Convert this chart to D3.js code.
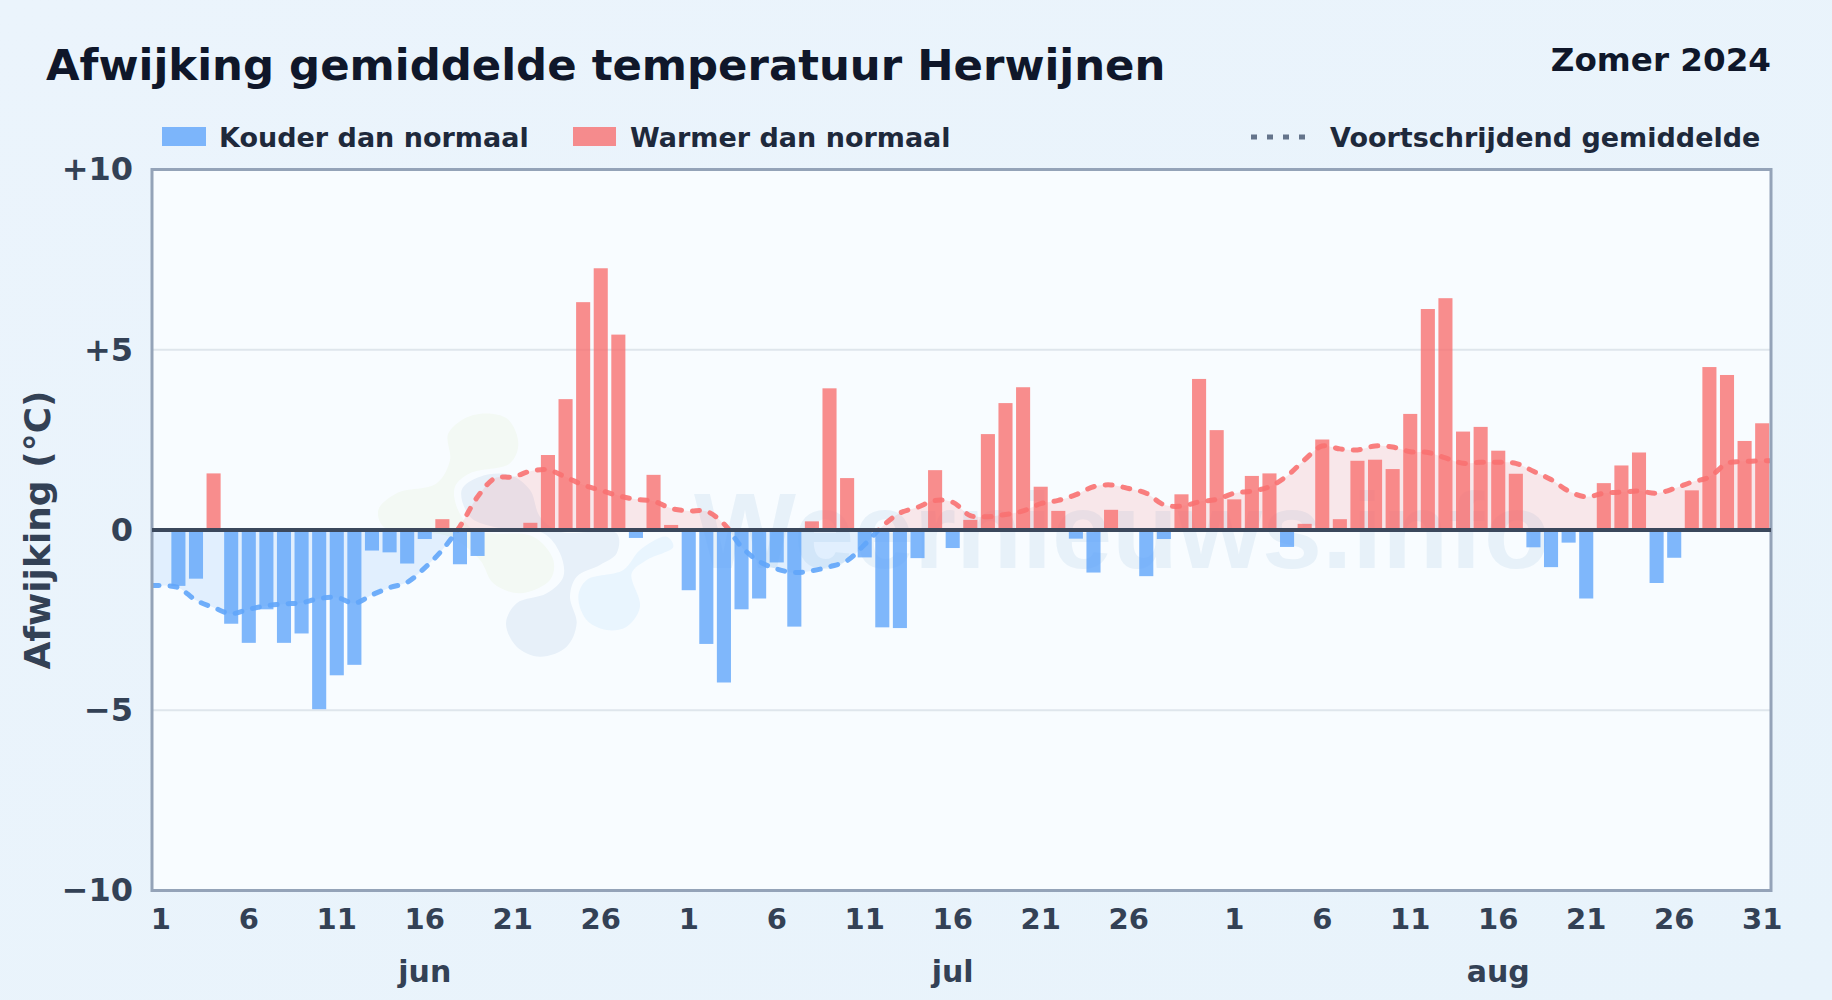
<!DOCTYPE html>
<html lang="nl"><head><meta charset="utf-8">
<script src="https://cdnjs.cloudflare.com/ajax/libs/d3/7.8.5/d3.min.js"></script>
<style>html,body{margin:0;padding:0;background:#e9f3fc}svg{display:block}text{font-family:"DejaVu Sans",sans-serif;font-weight:700}</style>
</head><body><svg id="c" width="1832" height="1000"></svg>
<script>
const titleText="Afwijking gemiddelde temperatuur Herwijnen";
const seasonText="Zomer 2024";
const yAxisTitle="Afwijking (°C)";
const legendLabels=["Kouder dan normaal","Warmer dan normaal","Voortschrijdend gemiddelde"];
const watermarkText="Weernieuws.info";
const months=["jun","jul","aug"];
const monthDays=[30,31,31];
const yTicks=[-10,-5,0,5,10];
const junDeviation=[0,-1.55,-1.35,1.57,-2.6,-3.13,-2.2,-3.13,-2.87,-4.97,-4.03,-3.74,-0.57,-0.62,-0.93,-0.25,0.3,-0.95,-0.72,0.05,0,0.2,2.08,3.63,6.32,7.26,5.42,-0.22,1.53,0.14];
const julDeviation=[-1.67,-3.16,-4.23,-2.2,-1.9,-0.9,-2.68,0.24,3.93,1.44,-0.76,-2.7,-2.72,-0.78,1.66,-0.5,0.28,2.66,3.52,3.96,1.2,0.53,-0.24,-1.18,0.56,-0.05,-1.28,-0.25,0.99,4.19,2.77];
const augDeviation=[0.85,1.5,1.57,-0.47,0.17,2.51,0.3,1.92,1.95,1.69,3.22,6.13,6.43,2.73,2.86,2.2,1.56,-0.48,-1.03,-0.35,-1.9,1.3,1.79,2.15,-1.47,-0.77,1.1,4.52,4.3,2.47,2.96];
const junAverage=[-1.54,-1.6,-1.95,-2.15,-2.32,-2.2,-2.1,-2.05,-2.02,-1.9,-1.87,-2.03,-1.8,-1.6,-1.45,-1.05,-0.55,0.1,0.92,1.44,1.47,1.63,1.67,1.47,1.25,1.1,0.95,0.85,0.8,0.6];
const julAverage=[0.53,0.52,0.17,-0.47,-0.87,-1.08,-1.18,-1.13,-1.02,-0.85,-0.4,0.1,0.47,0.63,0.82,0.77,0.4,0.37,0.43,0.53,0.73,0.82,0.98,1.2,1.25,1.15,1.02,0.7,0.66,0.78,0.85];
const augAverage=[1.02,1.08,1.2,1.5,1.95,2.33,2.25,2.22,2.33,2.3,2.17,2.15,2.0,1.85,1.88,1.88,1.85,1.63,1.4,1.08,0.92,1.02,1.05,1.08,1.02,1.15,1.33,1.47,1.85,1.9,1.92];
const deviation=[...junDeviation,...julDeviation,...augDeviation];
const average=[...junAverage,...julAverage,...augAverage];

const L=152,R=1771,T=169.5,B=890.5;
const svg=d3.select("#c");
const defs=svg.append("defs");
const g=defs.append("linearGradient").attr("id","bg").attr("x1",0).attr("y1",0).attr("x2",1).attr("y2",1);
g.append("stop").attr("offset",0).attr("stop-color","#ebf4fc");
g.append("stop").attr("offset",1).attr("stop-color","#e8f3fb");
svg.append("rect").attr("width",1832).attr("height",1000).attr("fill","url(#bg)");

const days=d3.range(deviation.length);
const x=d3.scaleBand().domain(days).range([L,R]).paddingInner(0.2).paddingOuter(0.1);
const xc=d3.scaleLinear().domain([0,deviation.length]).range([L,R]);
const y=d3.scaleLinear().domain([-10,10]).range([B,T]);

svg.append("rect").attr("x",L).attr("y",T).attr("width",R-L).attr("height",B-T).attr("fill","#f8fcff");

defs.append("clipPath").attr("id","plot").append("rect").attr("x",L).attr("y",T).attr("width",R-L).attr("height",B-T);
defs.append("clipPath").attr("id","above").append("rect").attr("x",L).attr("y",T).attr("width",R-L).attr("height",y(0)-T);
defs.append("clipPath").attr("id","below").append("rect").attr("x",L).attr("y",y(0)).attr("width",R-L).attr("height",B-y(0));

// watermark blobs (decoration, coordinates in the watermark's own space)
const blobGreen=[[265,130],[340,75],[440,85],[475,160],[450,220],[330,250],[285,290],[290,350],[340,420],[390,430],[520,440],[580,510],[570,570],[480,610],[400,580],[360,510],[270,440],[150,425],[70,410],[55,360],[110,310],[230,280],[270,210]];
const blobSlate=[[305,300],[360,260],[450,255],[510,300],[540,380],[600,425],[770,430],[770,490],[720,525],[650,560],[630,620],[650,700],[620,770],[540,800],[470,770],[438,700],[470,640],[560,610],[610,560],[600,490],[550,430],[400,410],[330,380]];
const blobSky=[[655,620],[680,570],[790,540],[840,480],[920,440],[940,470],[860,510],[815,550],[840,650],[800,710],[740,720],[680,690]];
const wm=svg.append("g").attr("clip-path","url(#plot)");
const blob=d3.line().x(d=>360+d[0]/3).y(d=>390+d[1]/3).curve(d3.curveCatmullRomClosed.alpha(0.5));
[[blobGreen,"#f3f9f4"],[blobSlate,"#e7f0f9"],[blobSky,"#e9f5fe"]].forEach(([p,c])=>wm.append("path").attr("d",blob(p)).attr("fill",c));
wm.append("text").attr("x",1122).attr("y",568).attr("text-anchor","middle").attr("font-size",108).attr("fill","#e7f1f9").style("font-family","'Liberation Sans'").text(watermarkText);

// grid
svg.append("g").selectAll("line").data(yTicks.filter(v=>Math.abs(v)==5)).join("line")
 .attr("x1",L).attr("x2",R).attr("y1",d=>y(d)).attr("y2",d=>y(d)).attr("stroke","#dfe6ec").attr("stroke-width",2);

// bars
svg.append("g").selectAll("rect").data(days).join("rect")
 .attr("x",d=>x(d)).attr("width",x.bandwidth())
 .attr("y",d=>y(Math.max(deviation[d],0))).attr("height",d=>Math.abs(y(deviation[d])-y(0)))
 .attr("fill",d=>deviation[d]>=0?"#f87171":"#60a5fa").attr("fill-opacity",0.8);

// moving average
const avgPts=[[0,average[0]],...average.map((v,i)=>[i+0.5,v]),[average.length,average[average.length-1]]];
const lineGen=d3.line().x(d=>xc(d[0])).y(d=>y(d[1])).curve(d3.curveCatmullRom.alpha(0.5));
const areaGen=d3.area().x(d=>xc(d[0])).y0(y(0)).y1(d=>y(d[1])).curve(d3.curveCatmullRom.alpha(0.5));
[["above","#f87171","#f87171"],["below","#60a5fa","#60a5fa"]].forEach(([clip,fill,stroke])=>{
  const h=svg.append("g").attr("clip-path",`url(#${clip})`);
  h.append("path").attr("d",areaGen(avgPts)).attr("fill",fill).attr("fill-opacity",0.15);
  h.append("path").attr("d",lineGen(avgPts)).attr("fill","none").attr("stroke",stroke).attr("stroke-width",5)
   .attr("stroke-dasharray","7 11").attr("stroke-linecap","round").attr("stroke-opacity",0.9);
});

// frame + zero
svg.append("rect").attr("x",L).attr("y",T).attr("width",R-L).attr("height",B-T).attr("fill","none").attr("stroke","#94a3b8").attr("stroke-width",3);
svg.append("line").attr("x1",L).attr("x2",R).attr("y1",y(0)).attr("y2",y(0)).attr("stroke","#3b485c").attr("stroke-width",4);

// axes
const fmt=v=>v>0?"+"+v:v<0?"\u2212"+Math.abs(v):"0";
const ya=svg.append("g").attr("transform",`translate(${L},0)`).call(d3.axisLeft(y).tickValues(yTicks).tickFormat(fmt).tickSize(0).tickPadding(19));
ya.select(".domain").remove();
ya.selectAll("text").attr("font-size",32).attr("fill","#334155").attr("font-family","DejaVu Sans").attr("font-weight",700);
const dayNo=[];let offs=[],s=0;
monthDays.forEach(n=>{offs.push(s);d3.range(n).forEach(i=>dayNo.push(i+1));s+=n;});
const tickDays=days.filter(i=>(dayNo[i]-1)%5===0&&!(dayNo[i]===31&&i<61));
const xa=svg.append("g").attr("transform",`translate(0,${B})`).call(d3.axisBottom(x).tickValues(tickDays).tickFormat(i=>dayNo[i]).tickSize(0).tickPadding(18));
xa.select(".domain").remove();
xa.selectAll("text").attr("font-size",29).attr("fill","#334155").attr("font-family","DejaVu Sans").attr("font-weight",700);
const monthCenters=months.map((m,i)=>xc(offs[i]+15.5));
svg.append("g").selectAll("text").data(months).join("text").attr("x",(d,i)=>monthCenters[i]).attr("y",982).attr("text-anchor","middle").attr("font-size",30).attr("fill","#334155").text(d=>d);

svg.append("text").attr("transform","translate(50,530) rotate(-90)").attr("text-anchor","middle").attr("font-size",36).attr("fill","#334155").text(yAxisTitle);

// titles
svg.append("text").attr("x",46).attr("y",80).attr("font-size",43.4).attr("fill","#0f172a").text(titleText);
svg.append("text").attr("x",1771).attr("y",71).attr("text-anchor","end").attr("font-size",32.6).attr("fill","#0f172a").text(seasonText);

// legend
svg.append("rect").attr("x",162).attr("y",127).attr("width",44).attr("height",19).attr("fill","#60a5fa").attr("fill-opacity",0.8);
svg.append("text").attr("x",219).attr("y",147).attr("font-size",27).attr("fill","#1e293b").text(legendLabels[0]);
svg.append("rect").attr("x",573).attr("y",127).attr("width",43).attr("height",19).attr("fill","#f87171").attr("fill-opacity",0.8);
svg.append("text").attr("x",630).attr("y",147).attr("font-size",27).attr("fill","#1e293b").text(legendLabels[1]);
svg.append("line").attr("x1",1251).attr("x2",1307).attr("y1",137).attr("y2",137).attr("stroke","#64748b").attr("stroke-width",5).attr("stroke-dasharray","6 10");
svg.append("text").attr("x",1330).attr("y",147).attr("font-size",27).attr("fill","#1e293b").text(legendLabels[2]);
</script></body></html>
